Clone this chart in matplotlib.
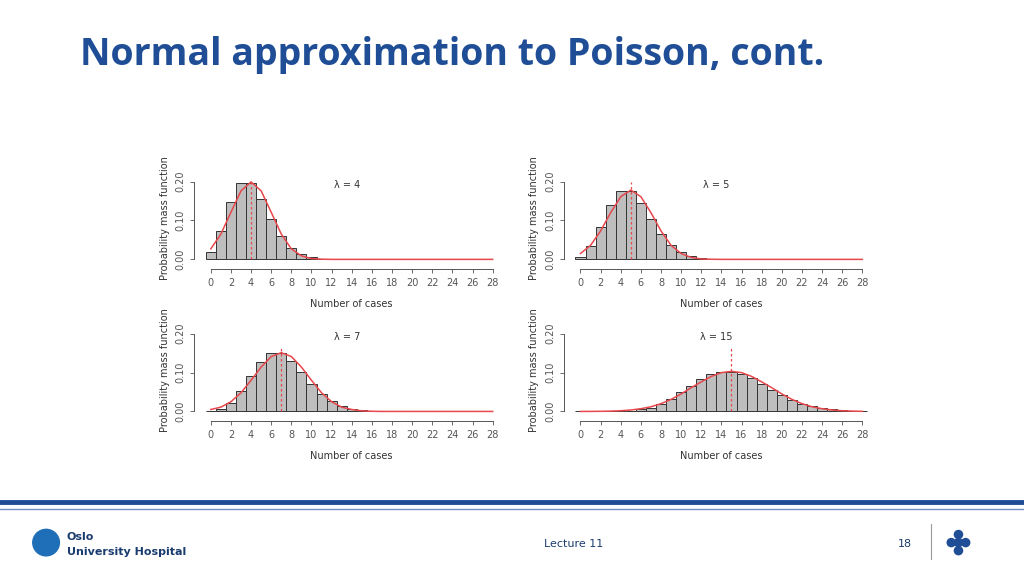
import matplotlib.pyplot as plt
from matplotlib.patches import Ellipse

# Poisson pmf bars (index = number of cases)
lambdas = [4, 5, 7, 15]
pmf_l4 = [0.018, 0.073, 0.147, 0.195, 0.195, 0.156, 0.104, 0.060, 0.030, 0.013, 0.005, 0.002, 0.001]
pmf_l5 = [0.007, 0.034, 0.084, 0.140, 0.175, 0.175, 0.146, 0.104, 0.065, 0.036, 0.018, 0.008, 0.003, 0.001]
pmf_l7 = [0.001, 0.006, 0.022, 0.052, 0.091, 0.128, 0.149, 0.149, 0.130, 0.101, 0.071, 0.045,
          0.026, 0.014, 0.007, 0.003, 0.001]
pmf_l15 = [0.0, 0.0, 0.0, 0.0002, 0.0006, 0.002, 0.005, 0.010, 0.019, 0.032, 0.049, 0.066,
           0.083, 0.096, 0.102, 0.102, 0.096, 0.085, 0.071, 0.056, 0.042, 0.030, 0.020,
           0.013, 0.008, 0.005, 0.003, 0.002, 0.001]
pmfs = [pmf_l4, pmf_l5, pmf_l7, pmf_l15]

# normal approximation curve, x = 0..28
norm_l4 = [0.027, 0.065, 0.121, 0.176, 0.199, 0.176, 0.121, 0.065, 0.027, 0.009, 0.002, 0.0005, 0, 0,
           0, 0, 0, 0, 0, 0, 0, 0, 0, 0, 0, 0, 0, 0, 0]
norm_l5 = [0.015, 0.036, 0.073, 0.120, 0.161, 0.178, 0.161, 0.120, 0.073, 0.036, 0.015, 0.005, 0.001,
           0.0003, 0, 0, 0, 0, 0, 0, 0, 0, 0, 0, 0, 0, 0, 0, 0]
norm_l7 = [0.005, 0.011, 0.025, 0.048, 0.080, 0.114, 0.141, 0.151, 0.141, 0.114, 0.080, 0.048, 0.025,
           0.011, 0.005, 0.0015, 0.0004, 0, 0, 0, 0, 0, 0, 0, 0, 0, 0, 0, 0]
norm_l15 = [0.0, 0.0001, 0.0003, 0.0008, 0.0018, 0.0037, 0.007, 0.012, 0.020, 0.031, 0.045, 0.061,
            0.076, 0.090, 0.0997, 0.103, 0.0997, 0.090, 0.076, 0.061, 0.045, 0.031, 0.020,
            0.012, 0.007, 0.0037, 0.0018, 0.0008, 0.0003]
norms = [norm_l4, norm_l5, norm_l7, norm_l15]
vline_tops = [0.20, 0.20, 0.168, 0.165]

x_ticks = list(range(0, 29, 2))
y_ticks = [0.00, 0.10, 0.20]

fig = plt.figure(figsize=(10.24, 5.76), dpi=100)

fig.text(0.078, 0.905, "Normal approximation to Poisson, cont.", fontsize=27, fontweight='bold',
         color='#1f4e96', ha='left', va='center', family='Open Sans')

positions = [(0.198, 0.547), (0.559, 0.547), (0.198, 0.283), (0.559, 0.283)]
grey = '#555555'
for i, (l, b) in enumerate(positions):
    ax = fig.add_axes([l, b, 0.291, 0.148])
    pmf = pmfs[i]
    ax.bar(range(len(pmf)), pmf, width=1.0, color='#bebebe', edgecolor='#333333', linewidth=0.7)
    ax.plot(range(len(norms[i])), norms[i], color='#e8474b', lw=1.1)
    ax.plot([lambdas[i], lambdas[i]], [0, vline_tops[i]], color='#e8474b', lw=0.9, ls=(0, (2, 2)))
    ax.text(13.5, 0.19, f"λ = {lambdas[i]}", fontsize=7, color='#333333', ha='center', va='center')
    ax.set_xlim(-0.8, 28.8)
    ax.set_ylim(-0.004, 0.215)
    for s in ['top', 'right']:
        ax.spines[s].set_visible(False)
    ax.spines['left'].set_position(('outward', 6))
    ax.spines['bottom'].set_position(('outward', 6))
    ax.spines['left'].set_bounds(0, 0.2)
    ax.spines['bottom'].set_bounds(0, 28)
    for s in ['left', 'bottom']:
        ax.spines[s].set_color(grey)
        ax.spines[s].set_linewidth(0.7)
    ax.set_xticks(x_ticks)
    ax.set_yticks(y_ticks)
    ax.set_yticklabels(["0.00", "0.10", "0.20"], rotation=90, va='center')
    ax.tick_params(labelsize=7, colors=grey, length=3, width=0.6)
    ax.set_xlabel("Number of cases", fontsize=7, color='#333333', labelpad=8)
    ax.set_ylabel("Probability mass function", fontsize=7, color='#333333', labelpad=4)

# footer
fig.add_artist(plt.Line2D([0, 1], [0.128, 0.128], color='#1f4e96', lw=3.5))
fig.add_artist(plt.Line2D([0, 1], [0.116, 0.116], color='#6f8fc4', lw=1.0))
fig.add_artist(Ellipse((0.045, 0.058), 0.026, 0.046, transform=fig.transFigure, color='#1f6fb8'))
fig.text(0.065, 0.068, "Oslo", fontsize=8, fontweight='bold', color='#1a3c6e', va='center')
fig.text(0.065, 0.042, "University Hospital", fontsize=8, fontweight='bold', color='#1a3c6e', va='center')
fig.text(0.560, 0.055, "Lecture 11", fontsize=8, color='#1a3c6e', ha='center', va='center')
fig.text(0.884, 0.055, "18", fontsize=8, color='#1a3c6e', ha='center', va='center')
fig.add_artist(plt.Line2D([0.909, 0.909], [0.03, 0.09], color='#999999', lw=0.8))
for (dx, dy) in [(0.936, 0.072), (0.936, 0.058), (0.936, 0.044), (0.929, 0.058), (0.943, 0.058)]:
    fig.add_artist(Ellipse((dx, dy), 0.008, 0.014, transform=fig.transFigure, color='#1f4e96'))

fig.savefig("out.png", dpi=100)
